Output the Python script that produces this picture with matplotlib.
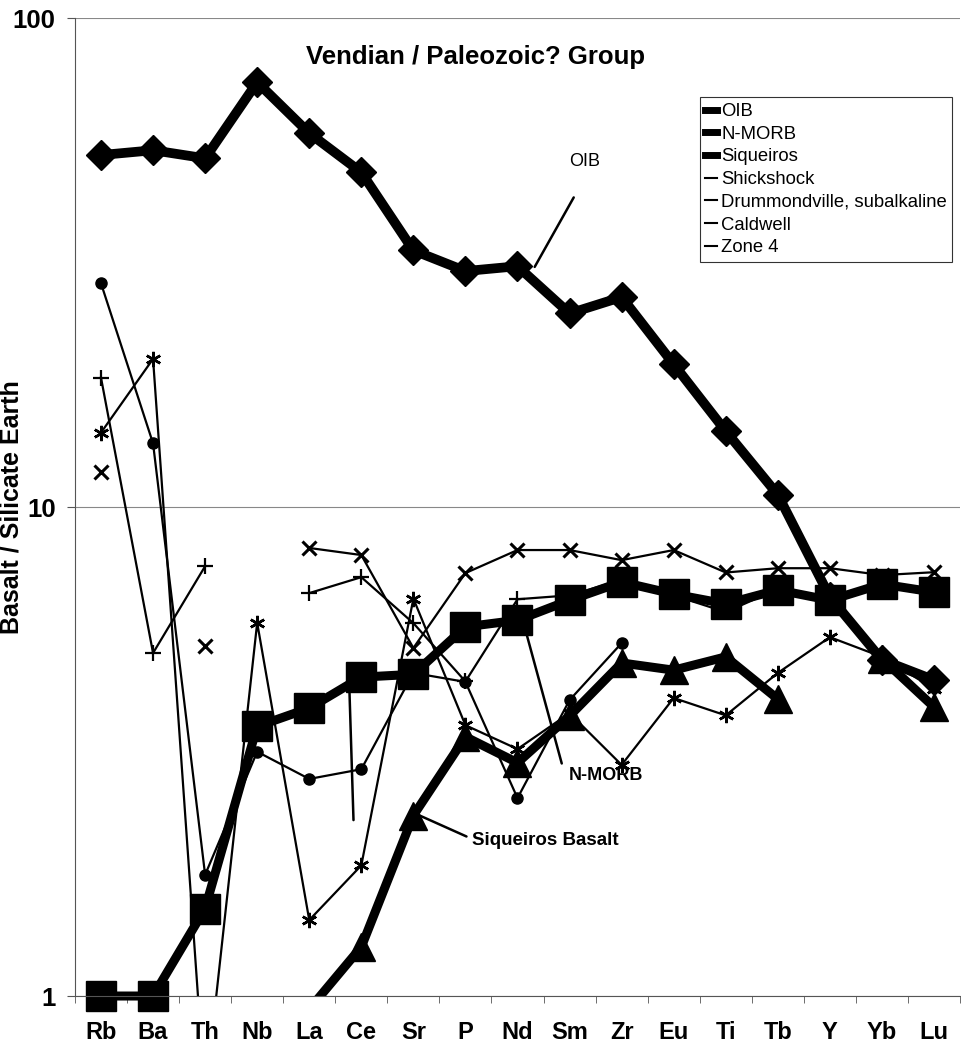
import numpy as np
import matplotlib
matplotlib.use("Agg")
import matplotlib.pyplot as plt
from matplotlib.lines import Line2D
from matplotlib.ticker import FixedLocator, NullFormatter, NullLocator

plt.rcParams['font.family'] = ['Liberation Sans', 'DejaVu Sans']

nan = np.nan

elements = ["Rb", "Ba", "Th", "Nb", "La", "Ce", "Sr", "P", "Nd", "Sm",
            "Zr", "Eu", "Ti", "Tb", "Y", "Yb", "Lu"]

oib = [52.5, 53.7, 51.7, 74.0, 58.2, 48.4, 33.5, 30.4, 31.1, 24.9,
       26.9, 19.6, 14.3, 10.6, 6.55, 4.87, 4.43]
nmorb = [1.0, 1.0, 1.51, 3.56, 3.88, 4.49, 4.55, 5.69, 5.87, 6.45,
         7.03, 6.64, 6.34, 6.77, 6.45, 6.96, 6.70]
siqueiros = [nan, nan, nan, nan, 0.94, 1.26, 2.34, 3.39, 3.0, 3.74,
             4.8, 4.64, 4.94, 4.05, nan, 4.9, 3.9]
shickshock = [11.8, nan, 5.2, nan, 8.25, 7.98, 5.15, 7.33, 8.17, 8.17,
              7.79, 8.17, 7.35, 7.5, 7.5, 7.26, 7.36]
drummondville = [14.2, 20.1, 0.62, 5.8, 1.43, 1.85, 6.5, 3.58, 3.2, 3.79,
                 2.97, 4.07, 3.75, 4.58, 5.42, 4.94, 4.25]
caldwell = [28.7, 13.5, 1.77, 3.16, 2.78, 2.91, 4.58, 4.39, 2.54, 4.03,
            5.27, nan, nan, nan, nan, nan, nan]
zone4 = [18.4, 5.03, 7.57, nan, 6.67, 7.19, 5.79, 4.4, 6.48, 6.6,
         7.1, 6.6, 6.1, 6.8, 6.4, 6.9, 6.6]

x = np.arange(len(elements))

fig = plt.figure(figsize=(9.61, 10.48), dpi=100)
ax = fig.add_axes([0.078, 0.0496, 0.921, 0.933])
ax.set_yscale('log')
ax.set_ylim(1, 100)
ax.set_xlim(-0.5, len(elements) - 0.5)

# thin series first
thin = dict(color='black', lw=1.6)
ax.plot(x, zone4, marker='+', ms=11, mew=1.6, **thin)
ax.plot(x, caldwell, marker='o', ms=8, **thin)
ax.plot(x, drummondville, marker=(6, 2, 0), ms=11, mew=1.8, **thin)
ax.plot(x, shickshock, marker='x', ms=10, mew=2.2, **thin)

# thick reference series
ax.plot(x, siqueiros, color='black', lw=6.5, marker='^', ms=20,
        markevery=[i for i in range(len(x)) if i != 4])
ax.plot(x, nmorb, color='black', lw=6.5, marker='s', ms=22, clip_on=False)
ax.plot(x, oib, color='black', lw=7, marker='D', ms=15)

# leader lines and labels
lead = dict(arrowstyle='-', color='black', lw=1.8, shrinkA=0, shrinkB=0)
ax.annotate("", xy=(8.33, 31.0), xytext=(9.08, 43.0), arrowprops=lead)
ax.text(9.29, 51.0, "OIB", fontsize=13, va='center', ha='center')
ax.annotate("", xy=(8.17, 5.52), xytext=(8.85, 2.99), arrowprops=lead)
ax.text(8.98, 2.82, "N-MORB", fontsize=13, fontweight='bold',
        va='center', ha='left')
ax.annotate("", xy=(6.12, 2.34), xytext=(7.02, 2.12), arrowprops=lead)
ax.text(7.12, 2.08, "Siqueiros Basalt", fontsize=13.5, fontweight='bold',
        va='center', ha='left')
ax.annotate("", xy=(4.77, 4.28), xytext=(4.85, 2.29), arrowprops=lead)

ax.text(0.452, 0.96, "Vendian / Paleozoic? Group", transform=ax.transAxes,
        fontsize=18.5, fontweight='bold', ha='center', va='center')

# axes styling
for s in ('top', 'right'):
    ax.spines[s].set_visible(False)
ax.spines['left'].set_color('#555555')
ax.spines['bottom'].set_color('#555555')
ax.yaxis.set_major_locator(FixedLocator([1, 10, 100]))
ax.yaxis.set_minor_locator(NullLocator())
ax.yaxis.set_minor_formatter(NullFormatter())
ax.set_yticklabels(["1", "10", "100"])
ax.grid(axis='y', which='major', color='#888888', lw=0.8)
ax.set_axisbelow(True)
ax.set_xticks(x)
ax.set_xticklabels(elements)
ax.xaxis.set_minor_locator(FixedLocator(np.arange(-0.5, len(elements), 1.0)))
ax.tick_params(axis='x', which='major', length=0, pad=18, labelsize=17)
ax.tick_params(axis='x', which='minor', length=5, direction='out',
               color='#555555')
ax.tick_params(axis='y', which='major', length=6, direction='out',
               labelsize=18.5, color='#555555', pad=8)
for lab in ax.get_xticklabels() + ax.get_yticklabels():
    lab.set_fontweight('bold')
ax.set_ylabel("Basalt / Silicate Earth", fontsize=18, fontweight='bold')
ax.yaxis.set_label_coords(-0.058, 0.5)

names = ["OIB", "N-MORB", "Siqueiros", "Shickshock",
         "Drummondville, subalkaline", "Caldwell", "Zone 4"]
widths = [5, 5, 5, 1.5, 1.5, 1.5, 1.5]
handles = [Line2D([0], [0], color='black', lw=w) for w in widths]
leg = ax.legend(handles, names, loc='upper left',
                bbox_to_anchor=(0.706, 0.919), fontsize=13.3,
                handlelength=0.65, handletextpad=0.2, labelspacing=0.31,
                borderpad=0.3, borderaxespad=0, frameon=True, fancybox=False)
leg.get_frame().set_edgecolor('black')
leg.get_frame().set_linewidth(0.8)

fig.savefig("out.png", dpi=100)
